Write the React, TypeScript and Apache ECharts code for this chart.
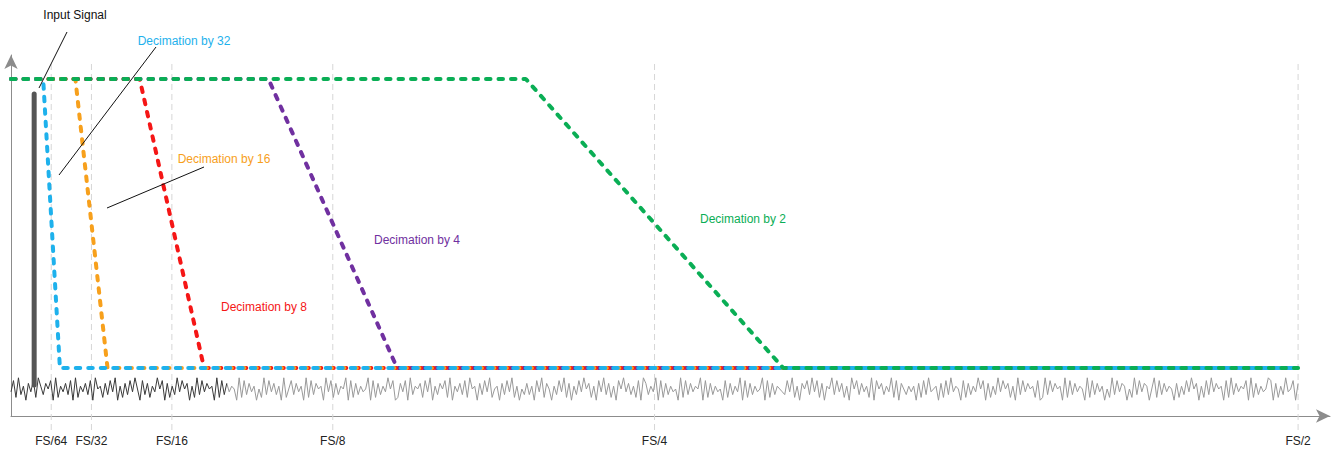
import React, { useEffect, useRef } from "react";
import * as echarts from "echarts";

// ---- Data ----
const FS_TICKS = [1 / 64, 1 / 32, 1 / 16, 1 / 8, 1 / 4, 1 / 2];
const FS_LABELS = ["FS/64", "FS/32", "FS/16", "FS/8", "FS/4", "FS/2"];

const PASS_LEVEL = 337;
const STOP_LEVEL = 48;

const DEC_NAMES = ["Decimation by 4", "Decimation by 8", "Decimation by 16", "Decimation by 32", "Decimation by 2"];
const DEC_PASS_EDGE = [0.1, 0.05, 0.025, 0.0125, 0.2];
const DEC_STOP_EDGE = [0.15, 0.075, 0.0375, 0.019, 0.3];
const DEC_COLORS = ["#7030a0", "#f51616", "#f7a01c", "#1eb1ec", "#0aae55"];

const INPUT_FREQ = 0.009;
const INPUT_LOW = 31;
const INPUT_HIGH = 322;

const NOISE_DIGITS =
  "4829361748296375819264738192647381956273849162738495" +
  "1837264958172639485716293847561928374651928374615293" +
  "8473619258374619283756194827365918273645918273649581" +
  "2748193657284916375829164738295617384925617384926153" +
  "7361849275163849271638495726184937261859473628197364" +
  "9182736451928374659182736451827364918273645918273654" +
  "3849261758394827165938472619583746291857364928175364" +
  "6172839456172839465182736495817263948572619384756281" +
  "2938475619283746519283746152938476152938476159283746" +
  "5172638495716283947561829374658192736459817263945817";
const NOISE_BASE = 13;
const NOISE_UNIT = 2.8;
const NOISE_SPLIT = 0.084; // dark segment ends here

const X_MAX = 0.5124;
const Y_MAX = 361;

export default function App() {
  const ref = useRef<HTMLDivElement>(null);

  useEffect(() => {
    document.body.style.margin = "0";
    if (!ref.current) return;
    const chart = echarts.init(ref.current, null, { renderer: "svg" });

    const n = NOISE_DIGITS.length;
    const step = 0.5 / (n - 1);
    const noise = NOISE_DIGITS.split("").map((c, i) => [i * step, NOISE_BASE + Number(c) * NOISE_UNIT]);
    const splitIdx = Math.round(NOISE_SPLIT / step);
    const noiseDark = noise.slice(0, splitIdx + 1);
    const noiseLight = noise.slice(splitIdx);

    const font = "Liberation Sans, Arial, sans-serif";

    const decSeries = DEC_NAMES.map((name, i) => ({
      name,
      type: "line",
      silent: true,
      showSymbol: false,
      symbol: "none",
      z: 5,
      data: [
        [0, PASS_LEVEL],
        [DEC_PASS_EDGE[i], PASS_LEVEL],
        [DEC_STOP_EDGE[i], STOP_LEVEL],
        [0.5, STOP_LEVEL],
      ],
      lineStyle: { color: DEC_COLORS[i], width: 4, type: [4.5, 8], cap: "round" },
    }));

    const textEl = (text: string, x: number, y: number, color: string) => ({
      type: "text",
      x,
      y,
      z: 100,
      style: {
        text,
        fill: color,
        font: `12px ${font}`,
        align: "center",
        verticalAlign: "middle",
        textAlign: "center",
        textVerticalAlign: "middle",
      },
    });
    const lineEl = (x1: number, y1: number, x2: number, y2: number) => ({
      type: "line",
      z: 100,
      shape: { x1, y1, x2, y2 },
      style: { stroke: "#111", lineWidth: 1 },
    });

    chart.setOption({
      animation: false,
      textStyle: { fontFamily: font },
      grid: { left: 11, right: 3, top: 55, bottom: 35, containLabel: false },
      xAxis: {
        type: "value",
        min: 0,
        max: X_MAX,
        axisLine: {
          show: true,
          onZero: false,
          symbol: ["none", "arrow"],
          symbolSize: [10, 14],
          lineStyle: { color: "#8c8c8c", width: 1 },
        },
        axisTick: { show: false },
        splitLine: { show: false },
        axisLabel: {
          show: true,
          customValues: FS_TICKS,
          margin: 19,
          color: "#222",
          fontSize: 12,
          fontFamily: font,
          formatter: (v: number) => {
            let best = 0;
            FS_TICKS.forEach((t, i) => {
              if (Math.abs(t - v) < Math.abs(FS_TICKS[best] - v)) best = i;
            });
            return FS_LABELS[best];
          },
        },
      },
      yAxis: {
        type: "value",
        min: 0,
        max: Y_MAX,
        axisLine: {
          show: true,
          onZero: false,
          symbol: ["none", "arrow"],
          symbolSize: [10, 14],
          lineStyle: { color: "#8c8c8c", width: 1 },
        },
        axisTick: { show: false },
        axisLabel: { show: false },
        splitLine: { show: false },
      },
      series: [
        {
          type: "custom",
          silent: true,
          clip: false,
          z: 1,
          data: FS_TICKS.map((t) => [t, 0]),
          encode: { x: 0, y: 1 },
          renderItem: (params: any, api: any) => {
            const top = api.coord([api.value(0), 352]);
            const bot = api.coord([api.value(0), -14]);
            return {
              type: "line",
              shape: { x1: top[0], y1: top[1], x2: bot[0], y2: bot[1] },
              style: { stroke: "#d6d6d6", lineWidth: 1, lineDash: [6, 4] },
            };
          },
        },
        {
          type: "line",
          silent: true,
          showSymbol: false,
          symbol: "none",
          z: 2,
          data: noiseLight,
          lineStyle: { color: "#999", width: 1 },
        },
        {
          type: "line",
          silent: true,
          showSymbol: false,
          symbol: "none",
          z: 2,
          data: noiseDark,
          lineStyle: { color: "#3a3a3a", width: 1 },
        },
        {
          type: "line",
          silent: true,
          showSymbol: false,
          symbol: "none",
          z: 3,
          data: [
            [INPUT_FREQ, INPUT_LOW],
            [INPUT_FREQ, INPUT_HIGH],
          ],
          lineStyle: { color: "#555", width: 5, cap: "round" },
        },
        ...decSeries,
      ],
      graphic: [
        textEl("Input Signal", 75, 15, "#111"),
        lineEl(67, 32, 39, 88),
        textEl("Decimation by 32", 184, 41, DEC_COLORS[3]),
        lineEl(156, 47, 59, 175),
        textEl("Decimation by 16", 224, 159, DEC_COLORS[2]),
        lineEl(204, 167, 107, 208),
        textEl("Decimation by 8", 264, 307, DEC_COLORS[1]),
        textEl("Decimation by 4", 417, 240, DEC_COLORS[0]),
        textEl("Decimation by 2", 743, 219, DEC_COLORS[4]),
      ],
    });

    return () => chart.dispose();
  }, []);

  return <div ref={ref} style={{ width: 1333, height: 451 }} />;
}
